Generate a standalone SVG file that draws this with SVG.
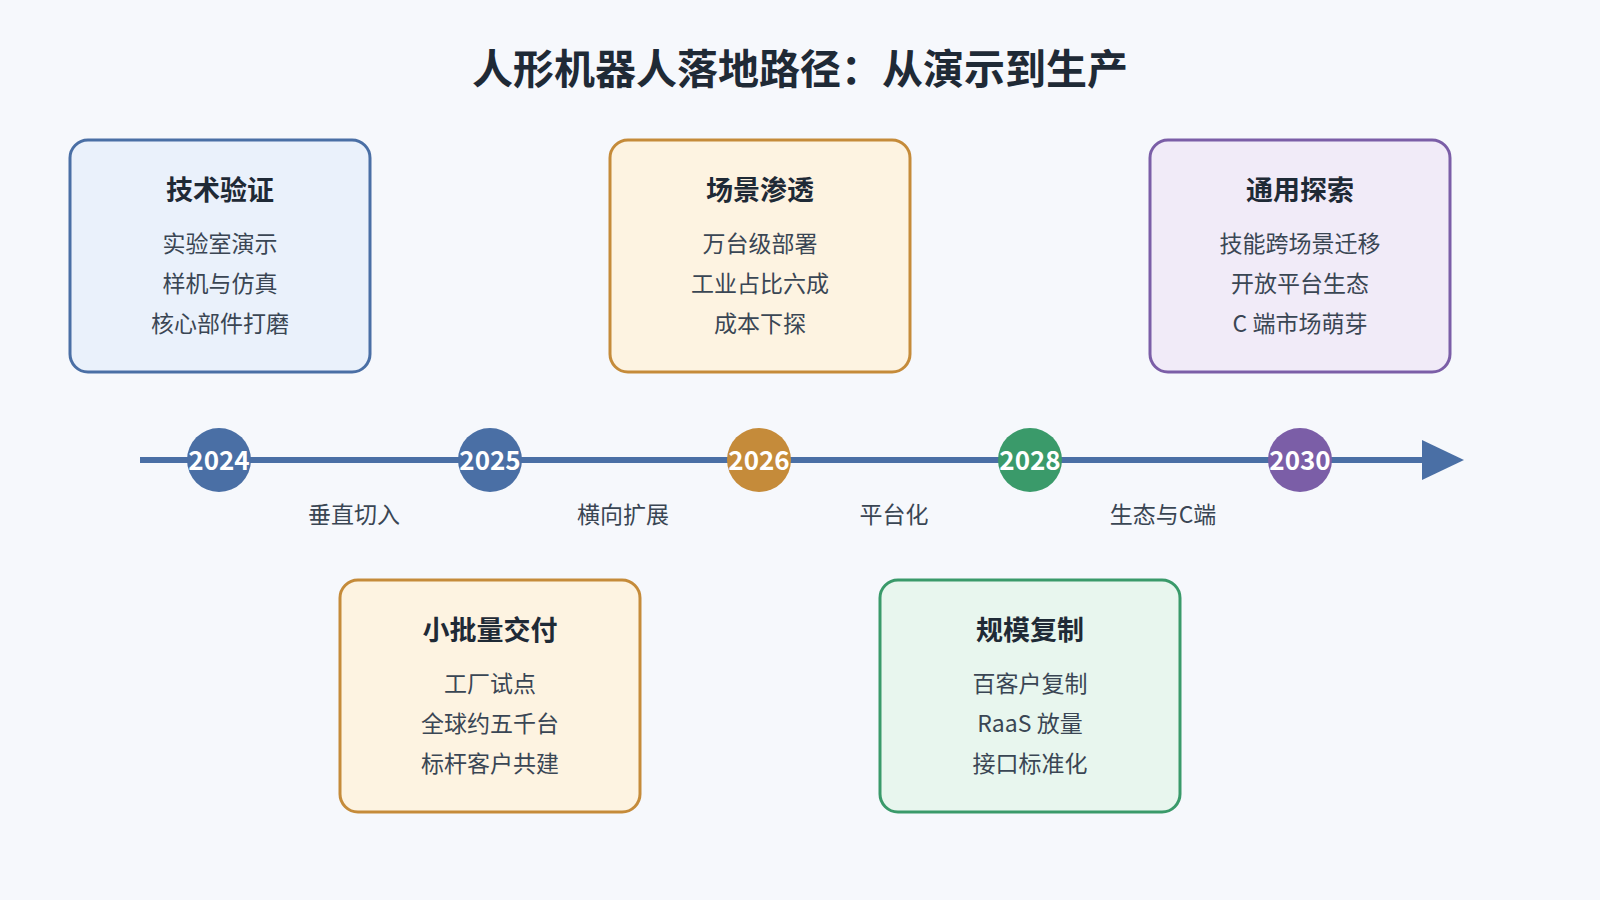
<svg xmlns="http://www.w3.org/2000/svg" width="1600" height="900" viewBox="0 0 1600 900">
<style>
text{font-family:"Noto Sans CJK SC","Noto Sans",sans-serif;text-anchor:middle}
.t{font-size:27px;font-weight:bold;fill:#1f2a36}
.l{font-size:23px;fill:#3a4654}
.y{font-size:26px;font-weight:bold;fill:#fff}
.c{font-size:23px;fill:#3a4654}
.box{stroke-width:3}
</style>
<defs><marker id="ar" markerWidth="10" markerHeight="10" refX="2" refY="5" orient="auto" markerUnits="userSpaceOnUse" viewBox="0 0 10 10"><path d="M0,0L10,5L0,10z" fill="#4a6fa5"/></marker></defs>
<rect width="1600" height="900" fill="#f6f8fc"/>
<text x="800" y="84" style="font-size:41px;font-weight:bold;fill:#1f2a36">人形机器人落地路径：从演示到生产</text>
<g id="connectors">
<line x1="140" y1="460" x2="1424" y2="460" stroke="#4a6fa5" stroke-width="6"/>
<path d="M1422,440L1464,460L1422,480z" fill="#4a6fa5"/>
<text class="c" x="354" y="523">垂直切入</text>
<text class="c" x="623" y="523">横向扩展</text>
<text class="c" x="894" y="523">平台化</text>
<text class="c" x="1163" y="523">生态与C端</text>
</g>
<g id="y2024"><circle cx="219" cy="460" r="32" fill="#4a6fa5"/><text class="y" x="219" y="470">2024</text></g>
<g id="y2025"><circle cx="490" cy="460" r="32" fill="#4a6fa5"/><text class="y" x="490" y="470">2025</text></g>
<g id="y2026"><circle cx="759" cy="460" r="32" fill="#c58b3a"/><text class="y" x="759" y="470">2026</text></g>
<g id="y2028"><circle cx="1030" cy="460" r="32" fill="#3a9a6a"/><text class="y" x="1030" y="470">2028</text></g>
<g id="y2030"><circle cx="1300" cy="460" r="32" fill="#7b5ea7"/><text class="y" x="1300" y="470">2030</text></g>
<g id="n1"><rect class="box" x="70" y="140" width="300" height="232" rx="18" fill="#eaf1fb" stroke="#4a6fa5"/>
<text class="t" x="220" y="200">技术验证</text><text class="l" x="220" y="252">实验室演示</text><text class="l" x="220" y="292">样机与仿真</text><text class="l" x="220" y="332">核心部件打磨</text></g>
<g id="n2"><rect class="box" x="610" y="140" width="300" height="232" rx="18" fill="#fdf3e1" stroke="#c58b3a"/>
<text class="t" x="760" y="200">场景渗透</text><text class="l" x="760" y="252">万台级部署</text><text class="l" x="760" y="292">工业占比六成</text><text class="l" x="760" y="332">成本下探</text></g>
<g id="n3"><rect class="box" x="1150" y="140" width="300" height="232" rx="18" fill="#f1ebf8" stroke="#7b5ea7"/>
<text class="t" x="1300" y="200">通用探索</text><text class="l" x="1300" y="252">技能跨场景迁移</text><text class="l" x="1300" y="292">开放平台生态</text><text class="l" x="1300" y="332">C 端市场萌芽</text></g>
<g id="n4"><rect class="box" x="340" y="580" width="300" height="232" rx="18" fill="#fdf3e1" stroke="#c58b3a"/>
<text class="t" x="490" y="640">小批量交付</text><text class="l" x="490" y="692">工厂试点</text><text class="l" x="490" y="732">全球约五千台</text><text class="l" x="490" y="772">标杆客户共建</text></g>
<g id="n5"><rect class="box" x="880" y="580" width="300" height="232" rx="18" fill="#e8f6ee" stroke="#3a9a6a"/>
<text class="t" x="1030" y="640">规模复制</text><text class="l" x="1030" y="692">百客户复制</text><text class="l" x="1030" y="732">RaaS 放量</text><text class="l" x="1030" y="772">接口标准化</text></g>
</svg>
